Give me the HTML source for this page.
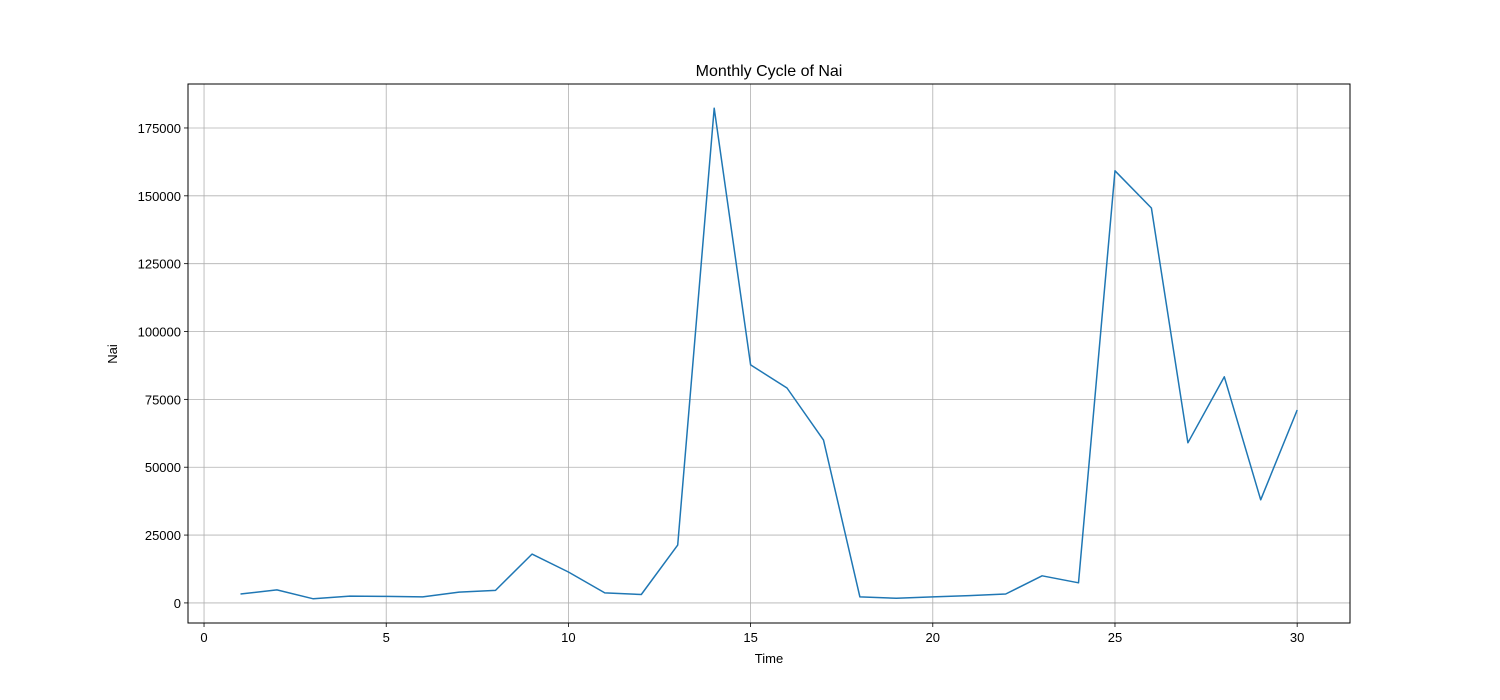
<!DOCTYPE html>
<html><head><meta charset="utf-8">
<style>
html,body{margin:0;padding:0;background:#fff;}
svg{display:block;font-family:"Liberation Sans","DejaVu Sans",sans-serif;}
</style></head>
<body>
<svg id="chart" width="1500" height="700" xmlns="http://www.w3.org/2000/svg">
<rect width="1500" height="700" fill="#fff"/>
<g id="grid"></g>
<g id="ticks"></g>
<path id="line" fill="none" stroke="#1f77b4" stroke-width="1.5" stroke-linejoin="round"/>
<rect x="188" y="84" width="1162" height="539" fill="none" stroke="#000" stroke-width="1"/>
<text x="769" y="76" font-size="16" text-anchor="middle">Monthly Cycle of Nai</text>
<text x="769" y="663" font-size="13" text-anchor="middle">Time</text>
<text x="117" y="354" font-size="13" text-anchor="middle" transform="rotate(-90 117 354)">Nai</text>
</svg>
<script>
const times=[1,2,3,4,5,6,7,8,9,10,11,12,13,14,15,16,17,18,19,20,21,22,23,24,25,26,27,28,29,30];
const values=[3300,4800,1500,2500,2400,2200,4000,4600,18000,11400,3700,3100,21300,182300,87700,79200,60000,2200,1700,2200,2700,3300,10000,7400,159200,145500,59000,83300,38000,71100];
const xTicks=[0,5,10,15,20,25,30];
const yTicks=[0,25000,50000,75000,100000,125000,150000,175000];
const L=188,R=1350,T=84,B=623;
const xMin=-0.44,xMax=31.45,yMin=-7400,yMax=191200;
const xs=v=>L+(v-xMin)/(xMax-xMin)*(R-L);
const ys=v=>B-(v-yMin)/(yMax-yMin)*(B-T);
const NS="http://www.w3.org/2000/svg";
const grid=document.getElementById('grid'),ticks=document.getElementById('ticks');
function mk(tag,attrs,parent){const e=document.createElementNS(NS,tag);for(const k in attrs)e.setAttribute(k,attrs[k]);parent.appendChild(e);return e;}
xTicks.forEach(t=>{const x=xs(t);
 const g=mk('line',{x1:x,x2:x,y1:T,y2:B,stroke:'#b0b0b0','stroke-width':0.8},grid);
 
 
 const tk=mk('line',{x1:x,x2:x,y1:B,y2:B+4,stroke:'#000','stroke-width':0.8},ticks);
 
 
 const tx=mk('text',{x:x,y:B+19,'font-size':13,'text-anchor':'middle'},ticks);tx.textContent=t;
 
 
});
yTicks.forEach(t=>{const y=ys(t);
 const g=mk('line',{x1:L,x2:R,y1:y,y2:y,stroke:'#b0b0b0','stroke-width':0.8},grid);
 
 
 const tk=mk('line',{x1:L-4,x2:L,y1:y,y2:y,stroke:'#000','stroke-width':0.8},ticks);
 
 
 const tx=mk('text',{x:L-7,y:y+5,'font-size':13,'text-anchor':'end'},ticks);tx.textContent=t;
 
 
});
document.getElementById('line').setAttribute('d',times.map((t,i)=>(i?'L':'M')+xs(t).toFixed(1)+' '+ys(values[i]).toFixed(1)).join(' '));
</script>
</body></html>
